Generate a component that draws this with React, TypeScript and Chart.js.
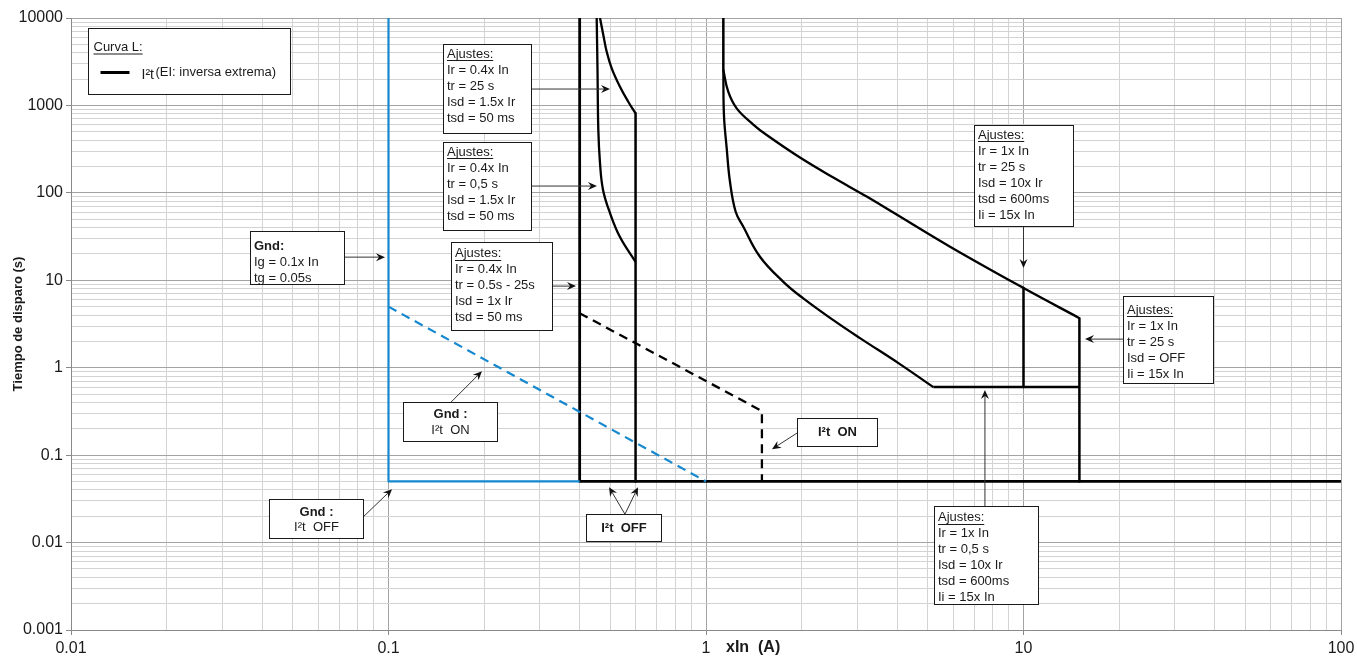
import React, { useEffect, useRef } from 'react';
import { Chart, registerables } from 'chart.js';

Chart.register(...registerables);

// ---- Axis ticks ----
const xTickValues = [0.01, 0.1, 1, 10, 100];
const xTickLabels = ['0.01', '0.1', '1', '10', '100'];
const yTickValues = [0.001, 0.01, 0.1, 1, 10, 100, 1000, 10000];
const yTickLabels = ['0.001', '0.01', '0.1', '1', '10', '100', '1000', '10000'];
const minorSteps = [2, 3, 4, 5, 6, 7, 8, 9];

// ---- Series (x = I/In, y = seconds) ----
const gndFixed: [number, number][] = [[0.1, 10000], [0.1, 0.05], [0.4, 0.05]];
const gndI2tOn: [number, number][] = [[0.1, 5], [1, 0.05]];
const baseLine: [number, number][] = [[0.4, 10000], [0.4, 0.05], [100, 0.05]];
const isd06Vertical: [number, number][] = [[0.6, 812], [0.6, 0.05]];
const curveIr04tr25: [number, number][] = [
  [0.4636, 10000], [0.4749, 6390], [0.4867, 4113], [0.5047, 2658], [0.5359, 1637], [0.569, 1102], [0.6, 812],
];
const curveIr04tr05: [number, number][] = [
  [0.4526, 10000], [0.4553, 2541], [0.458, 523], [0.4636, 219], [0.4739, 108], [0.4985, 58.7], [0.5359, 31.2], [0.6, 16.2],
];
const i2tOnIr04: [number, number][] = [[0.4, 4.2], [1.5, 0.32], [1.5, 0.05]];
const ir1Vertical: [number, number][] = [[1.134, 10000], [1.134, 2541]];
const curveIr1tr25: [number, number][] = [
  [1.134, 2541], [1.175, 1435], [1.249, 926], [1.409, 604.6], [1.553, 458.5], [1.977, 253.4], [2.518, 149.6],
  [3.207, 90.7], [3.89, 59.5], [5.87, 24.2], [10, 8.15], [15, 3.69],
];
const ii15Vertical: [number, number][] = [[15, 3.69], [15, 0.05]];
const curveIr1tr05: [number, number][] = [
  [1.134, 2541], [1.139, 776], [1.162, 323], [1.19, 134], [1.24, 60.8], [1.311, 40.9], [1.479, 18.6],
  [1.752, 9.61], [2.025, 6.21], [2.518, 3.5], [3.055, 2.18], [4.08, 1.1], [5.2, 0.6],
];
const tsd600: [number, number][] = [[5.2, 0.6], [15, 0.6]];
const isd10Vertical: [number, number][] = [[10, 8.15], [10, 0.6]];

// ---- Annotation texts ----
const txtA = ['Ajustes:', 'Ir = 0.4x In', 'tr = 25 s', 'Isd = 1.5x Ir', 'tsd = 50 ms'];
const txtB = ['Ajustes:', 'Ir = 0.4x In', 'tr = 0,5 s', 'Isd = 1.5x Ir', 'tsd = 50 ms'];
const txtC = ['Ajustes:', 'Ir = 0.4x In', 'tr = 0.5s - 25s', 'Isd = 1x Ir', 'tsd = 50 ms'];
const txtGnd = ['Gnd:', 'Ig = 0.1x In', 'tg = 0.05s'];
const txtGndOn = ['Gnd :', 'I²t  ON'];
const txtGndOff = ['Gnd :', 'I²t  OFF'];
const txtI2tOff = ['I²t  OFF'];
const txtI2tOn = ['I²t  ON'];
const txtE = ['Ajustes:', 'Ir = 1x In', 'tr = 25 s', 'Isd = 10x Ir', 'tsd = 600ms', 'Ii = 15x In'];
const txtF = ['Ajustes:', 'Ir = 1x In', 'tr = 25 s', 'Isd = OFF', 'Ii = 15x In'];
const txtG = ['Ajustes:', 'Ir = 1x In', 'tr = 0,5 s', 'Isd = 10x Ir', 'tsd = 600ms', 'Ii = 15x In'];

const FONT = '"Liberation Sans", Arial, Helvetica, sans-serif';
const BLUE = '#1588cf';

type Pt = [number, number];
type Note = {
  at: Pt; w: number; h: number; lines: string[]; first: number; step: number;
  align: 'left' | 'center'; underlineFirst?: boolean; boldFirst?: boolean; allBold?: boolean;
  arrows: Pt[][];
};

const notes: Note[] = [
  { at: [0.1485, 5040], w: 88, h: 89, lines: txtA, first: 9.5, step: 16, align: 'left', underlineFirst: true, arrows: [[[0.2811, 1540], [0.4985, 1540]]] },
  { at: [0.1485, 381], w: 88, h: 88, lines: txtB, first: 9.5, step: 16, align: 'left', underlineFirst: true, arrows: [[[0.2811, 119.6], [0.4536, 119.6]]] },
  { at: [0.1574, 27.4], w: 101, h: 88, lines: txtC, first: 11, step: 16, align: 'left', underlineFirst: true, arrows: [[[0.3273, 8.58], [0.3896, 8.58]]] },
  { at: [0.03663, 36.6], w: 94, h: 53, lines: txtGnd, first: 14.5, step: 16, align: 'left', boldFirst: true, arrows: [[[0.0724, 18.4], [0.0975, 18.4]]] },
  { at: [0.1111, 0.404], w: 94, h: 39, lines: txtGndOn, first: 11.5, step: 16.5, align: 'center', boldFirst: true, arrows: [[[0.1574, 0.404], [0.197, 0.914]]] },
  { at: [0.04204, 0.03138], w: 94, h: 39, lines: txtGndOff, first: 12.5, step: 15.5, align: 'center', boldFirst: true, arrows: [[[0.0831, 0.01953], [0.1026, 0.0408]]] },
  { at: [0.4188, 0.02113], w: 75, h: 27, lines: txtI2tOff, first: 13.5, step: 16, align: 'center', allBold: true, arrows: [[[0.5556, 0.02113], [0.495, 0.04305]], [[0.5556, 0.02113], [0.6107, 0.04305]]] },
  { at: [1.934, 0.2651], w: 80, h: 28, lines: txtI2tOn, first: 14, step: 16, align: 'center', allBold: true, arrows: [[[1.934, 0.1786], [1.614, 0.1171]]] },
  { at: [6.984, 597], w: 99, h: 101, lines: txtE, first: 9.5, step: 16, align: 'left', underlineFirst: true, arrows: [[[10, 41.7], [10, 13.8]]] },
  { at: [20.58, 6.6], w: 90, h: 87, lines: txtF, first: 13.5, step: 16, align: 'left', underlineFirst: true, arrows: [[[20.58, 2.124], [15.62, 2.124]]] },
  { at: [5.225, 0.02609], w: 104, h: 98, lines: txtG, first: 11, step: 16, align: 'left', underlineFirst: true, arrows: [[[7.56, 0.02609], [7.56, 0.5544]]] },
];
const legendAt: Pt = [0.01131, 7686];

function logTicks(values: number[]) {
  const out: number[] = [];
  for (let i = 0; i < values.length - 1; i++) {
    for (const m of [1, ...minorSteps]) out.push(Number((values[i] * m).toPrecision(10)));
  }
  out.push(values[values.length - 1]);
  return out;
}
function majorIndex(v: number, list: number[]) {
  return list.findIndex((t) => Math.abs(t - v) / t < 1e-6);
}

function ds(points: Pt[], color: string, width: number, dash: number[] = [], smooth = false) {
  return {
    data: points.map(([x, y]) => ({ x, y })),
    borderColor: color,
    backgroundColor: color,
    borderWidth: width,
    borderDash: dash,
    pointRadius: 0,
    pointHoverRadius: 0,
    fill: false,
    tension: smooth ? 0.4 : 0,
    cubicInterpolationMode: 'default',
    borderCapStyle: 'butt',
    borderJoinStyle: 'round',
  };
}

function arrow(ctx: CanvasRenderingContext2D, x1: number, y1: number, x2: number, y2: number) {
  const ang = Math.atan2(y2 - y1, x2 - x1);
  const L = 9, W = 4, N = 3;
  ctx.strokeStyle = '#333';
  ctx.lineWidth = 1;
  ctx.beginPath();
  ctx.moveTo(x1, y1);
  ctx.lineTo(x2 - Math.cos(ang) * (L - N), y2 - Math.sin(ang) * (L - N));
  ctx.stroke();
  const bx = x2 - Math.cos(ang) * L, by = y2 - Math.sin(ang) * L;
  const nx = -Math.sin(ang), ny = Math.cos(ang);
  ctx.fillStyle = '#111';
  ctx.beginPath();
  ctx.moveTo(x2, y2);
  ctx.lineTo(bx + nx * W, by + ny * W);
  ctx.lineTo(x2 - Math.cos(ang) * (L - N), y2 - Math.sin(ang) * (L - N));
  ctx.lineTo(bx - nx * W, by - ny * W);
  ctx.closePath();
  ctx.fill();
}

function box(ctx: CanvasRenderingContext2D, x: number, y: number, w: number, h: number) {
  const rx = Math.round(x) + 0.5, ry = Math.round(y) + 0.5;
  ctx.fillStyle = '#fff';
  ctx.fillRect(rx, ry, w, h);
  ctx.strokeStyle = '#1a1a1a';
  ctx.lineWidth = 1;
  ctx.strokeRect(rx, ry, w, h);
  return [rx, ry];
}

const annotPlugin = {
  id: 'annot',
  afterDatasetsDraw(chart: any) {
    const { ctx } = chart;
    const xs = chart.scales.x, ys = chart.scales.y;
    const px = (v: number) => xs.getPixelForValue(v);
    const py = (v: number) => ys.getPixelForValue(v);
    ctx.save();
    for (const n of notes) {
      for (const a of n.arrows) arrow(ctx, px(a[0][0]), py(a[0][1]), px(a[1][0]), py(a[1][1]));
    }
    for (const n of notes) {
      const [bx, by] = box(ctx, px(n.at[0]), py(n.at[1]), n.w, n.h);
      n.lines.forEach((line, i) => {
        const bold = n.allBold || (n.boldFirst && i === 0);
        ctx.font = `${bold ? 'bold ' : ''}13px ${FONT}`;
        ctx.fillStyle = '#1a1a1a';
        ctx.textBaseline = 'middle';
        const cy = by + n.first + i * n.step;
        let tx: number;
        if (n.align === 'center') {
          ctx.textAlign = 'center';
          tx = bx + n.w / 2;
        } else {
          ctx.textAlign = 'left';
          tx = bx + 3.5;
        }
        ctx.fillText(line, tx, cy);
        if (n.underlineFirst && i === 0) {
          const w = ctx.measureText(line).width;
          ctx.strokeStyle = '#1a1a1a';
          ctx.lineWidth = 1;
          ctx.beginPath();
          ctx.moveTo(tx, Math.round(cy + 6) + 0.5);
          ctx.lineTo(tx + w, Math.round(cy + 6) + 0.5);
          ctx.stroke();
        }
      });
    }
    // legend
    const [lx, ly] = box(ctx, px(legendAt[0]), py(legendAt[1]), 202, 66);
    ctx.font = `13px ${FONT}`;
    ctx.fillStyle = '#1a1a1a';
    ctx.textAlign = 'left';
    ctx.textBaseline = 'middle';
    ctx.fillText('Curva L:', lx + 5, ly + 18.5);
    const cw = ctx.measureText('Curva L:').width;
    ctx.strokeStyle = '#1a1a1a';
    ctx.lineWidth = 1;
    ctx.beginPath();
    ctx.moveTo(lx + 5, ly + 25.5);
    ctx.lineTo(lx + 5 + cw, ly + 25.5);
    ctx.stroke();
    ctx.strokeStyle = '#000';
    ctx.lineWidth = 3;
    ctx.beginPath();
    ctx.moveTo(lx + 12, ly + 44);
    ctx.lineTo(lx + 41, ly + 44);
    ctx.stroke();
    ctx.textBaseline = 'alphabetic';
    ctx.font = `14px ${FONT}`;
    ctx.fillText('I²t', lx + 53, ly + 50);
    ctx.font = `13px ${FONT}`;
    ctx.fillText('(EI: inversa extrema)', lx + 67, ly + 47);
    ctx.restore();
  },
  afterDraw(chart: any) {
    const { ctx, chartArea } = chart;
    const xs = chart.scales.x;
    ctx.save();
    ctx.font = `bold 16px ${FONT}`;
    ctx.fillStyle = '#1a1a1a';
    ctx.textAlign = 'left';
    ctx.textBaseline = 'middle';
    ctx.fillText('xIn  (A)', xs.getPixelForValue(1) + 20, chartArea.bottom + 18);
    ctx.restore();
  },
};

export default function App() {
  const ref = useRef<HTMLCanvasElement>(null);
  useEffect(() => {
    const gridColor = (list: number[]) => (c: any) =>
      c.tick && majorIndex(c.tick.value, list) >= 0 ? '#a3a3a3' : '#d3d3d3';
    const tickColor = (list: number[]) => (c: any) =>
      c.tick && majorIndex(c.tick.value, list) >= 0 ? '#888' : 'rgba(0,0,0,0)';
    const chart = new Chart(ref.current as HTMLCanvasElement, {
      type: 'line',
      data: {
        datasets: [
          ds(gndFixed, BLUE, 2.2),
          ds(gndI2tOn, BLUE, 2.2, [9, 6]),
          ds(baseLine, '#000', 2.8),
          ds(isd06Vertical, '#000', 2.5),
          ds(curveIr04tr25, '#000', 2.3, [], true),
          ds(curveIr04tr05, '#000', 2.3, [], true),
          ds(i2tOnIr04, '#000', 2.3, [9, 6]),
          ds(ir1Vertical, '#000', 2.5),
          ds(curveIr1tr25, '#000', 2.3, [], true),
          ds(ii15Vertical, '#000', 2.5),
          ds(curveIr1tr05, '#000', 2.3, [], true),
          ds(tsd600, '#000', 2.5),
          ds(isd10Vertical, '#000', 2.5),
        ] as any,
      },
      options: {
        responsive: true,
        maintainAspectRatio: false,
        animation: false,
        events: [],
        layout: { padding: { top: 18, right: 16, left: 0, bottom: 0 } },
        plugins: { legend: { display: false }, tooltip: { enabled: false } },
        scales: {
          x: {
            type: 'logarithmic',
            min: 0.01,
            max: 100,
            afterBuildTicks: (s: any) => {
              s.ticks = logTicks(xTickValues).map((v) => ({ value: v }));
            },
            afterFit: (s: any) => {
              s.height = 29;
              s.paddingLeft = 0;
              s.paddingRight = 0;
            },
            ticks: {
              autoSkip: false,
              maxRotation: 0,
              minRotation: 0,
              padding: 4,
              color: '#1a1a1a',
              font: { family: FONT, size: 16 },
              callback: (v: any) => {
                const i = majorIndex(Number(v), xTickValues);
                return i >= 0 ? xTickLabels[i] : '';
              },
            },
            grid: { color: gridColor(xTickValues), lineWidth: 1, tickLength: 5, tickColor: tickColor(xTickValues) },
            border: { color: '#8a8a8a', width: 1 },
          },
          y: {
            type: 'logarithmic',
            min: 0.001,
            max: 10000,
            afterBuildTicks: (s: any) => {
              s.ticks = logTicks(yTickValues).map((v) => ({ value: v }));
            },
            afterFit: (s: any) => {
              s.width = 71;
              s.paddingTop = 0;
              s.paddingBottom = 0;
            },
            title: {
              display: true,
              text: 'Tiempo de disparo (s)',
              color: '#1a1a1a',
              font: { family: FONT, size: 13, weight: 'bold' },
              padding: { top: 11, bottom: 0 },
            },
            ticks: {
              autoSkip: false,
              padding: 3,
              color: '#1a1a1a',
              font: { family: FONT, size: 16 },
              callback: (v: any) => {
                const i = majorIndex(Number(v), yTickValues);
                return i >= 0 ? yTickLabels[i] : '';
              },
            },
            grid: { color: gridColor(yTickValues), lineWidth: 1, tickLength: 5, tickColor: tickColor(yTickValues) },
            border: { color: '#8a8a8a', width: 1 },
          },
        },
      } as any,
      plugins: [annotPlugin],
    });
    return () => chart.destroy();
  }, []);
  return (
    <div style={{ position: 'absolute', left: 0, top: 0, width: 1357, height: 659, background: '#fff' }}>
      <canvas ref={ref} />
    </div>
  );
}
